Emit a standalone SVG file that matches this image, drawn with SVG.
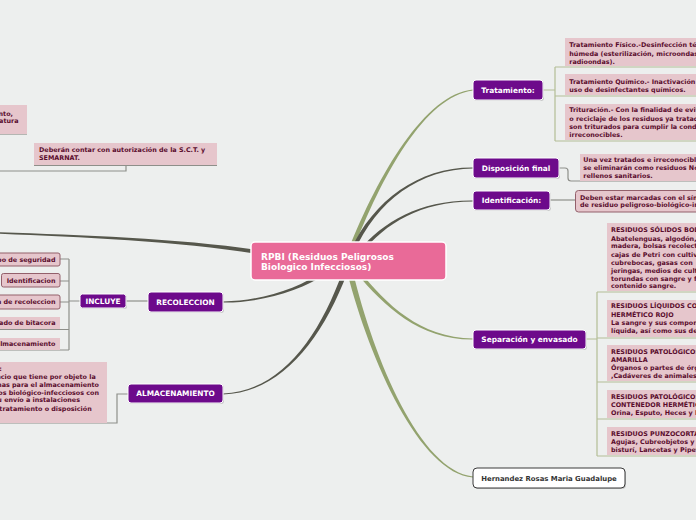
<svg xmlns="http://www.w3.org/2000/svg" width="696" height="520" viewBox="0 0 696 520">
<style>
.bg{fill:#edefee}
.tg{fill:#93a36e}
.td{fill:#56574c}
.lg{fill:none;stroke:#b3bd96;stroke-width:1.2}
.ly{fill:none;stroke:#8e8f8a;stroke-width:1.2}
.pn{fill:#6d0a8b;stroke:#ffffff;stroke-width:1}
.sh{fill:#9a9a9a;opacity:0.45}
.pt{font-family:"DejaVu Sans",Verdana,sans-serif;font-weight:bold;font-size:7.4px;fill:#ffffff;text-anchor:middle}
.bx{fill:#e6c6cc}
.bb{fill:#e6c6cc;stroke:#93606b;stroke-width:1}
.st{font-family:"DejaVu Sans",Verdana,sans-serif;font-weight:bold;font-size:6.4px;fill:#5a0c2c}
.ct{font-family:"DejaVu Sans",Verdana,sans-serif;font-weight:bold;font-size:9px;fill:#ffffff}
.ht{font-family:"DejaVu Sans",Verdana,sans-serif;font-weight:bold;font-size:6.9px;fill:#333333;text-anchor:middle}
.end{text-anchor:end}
</style>
<rect class="bg" x="0" y="0" width="696" height="520"/>

<g id="connectors">
  <path class="tg" d="M352.05,252.8 C381.7,175.65 425.1,96 473.05,90.5 L472.95,89.5 C424.9,94 378.3,174.35 347.95,251.2 Z"/>
  <path class="td" d="M353.83,252.81 C376.46,200.65 420,169 473,168.5 L473,167.5 C420,167 373.54,199.35 350.17,251.19 Z"/>
  <path class="td" d="M361.38,253.15 C386.08,222.9 420,202 473,201.5 L473,200.5 C420,200 383.92,221.1 358.62,250.85 Z"/>
  <path class="tg" d="M359.4,270.86 C386.09,304.11 420,338 473,338.5 L473,339.5 C420,340 383.91,305.89 356.6,273.14 Z"/>
  <path class="tg" d="M352.72,271.32 C374.13,359.47 420.11,470.8 473.05,476.5 L472.95,477.5 C419.89,473.2 369.87,360.53 347.28,272.68 Z"/>
  <path class="td" d="M326.17,273.62 C300.93,291.3 260,303 223,302.5 L223,301.5 C260,301 299.07,288.7 323.83,270.38 Z"/>
  <path class="td" d="M347.25,272.83 C321.78,340.66 280.04,393.1 223,394.5 L223,393.5 C279.96,390.9 318.22,339.34 342.75,271.17 Z"/>
  <path class="td" d="M257.7,253.98 C179.76,241.58 80,237.1 0,233.8 L0,232.2 C80,234.9 180.24,238.42 258.3,250.02 Z"/>
  <path class="lg" d="M543,90 H555 M555,67 V141 M555,67 H696 M555,96 H696 M555,141 H696"/>
  <path class="ly" d="M559,168 H565 Q568,168 568,171 V178 Q568,181 571,181 H696"/>
  <path class="ly" d="M550,200 H575"/>
  <path class="lg" d="M586,339 H597 M597,292 V456 M597,292 H696 M597,338 H696 M597,382 H696 M597,419 H696 M597,456 H696"/>
  <path class="ly" d="M126,301 H148"/>
  <path class="ly" d="M80,301 H69 M69,259 V350 M60,259 H69 M60,281 H69 M60,302 H69 M0,329.5 H69 M0,350 H69"/>
  <path class="ly" d="M128,394 H117 V423 H0"/>
  <path class="ly" d="M0,171 H126 V165 M34,165.5 H217"/>
  <path class="ly" d="M0,134 H27"/>
</g>

<g id="n-top-left">
  <rect class="bx" x="-20" y="105" width="47" height="29"/>
  <text class="st end" x="13" y="115.5">tratamiento,</text>
  <text class="st end" x="18.5" y="123">temperatura</text>
</g>
<g id="n-deberan">
  <rect class="bx" x="34" y="143" width="183" height="22"/>
  <text class="st" x="39" y="152.3">Deberán contar con autorización de la S.C.T. y</text>
  <text class="st" x="39" y="160">SEMARNAT.</text>
</g>

<g id="n-center">
  <rect x="251" y="242" width="195" height="38" rx="4" fill="#e96a98" stroke="#ffffff" stroke-width="1.5"/>
  <text class="ct" x="261" y="259.5">RPBI (Residuos Peligrosos</text>
  <text class="ct" x="261" y="270">Biologico Infecciosos)</text>
</g>

<g id="n-tratamiento">
  <rect class="sh" x="474" y="81" width="70" height="20" rx="3"/>
  <rect class="pn" x="473" y="80" width="70" height="20" rx="3"/>
  <text class="pt" x="508" y="92.6">Tratamiento:</text>
</g>
<g id="n-trat-fisico">
  <rect class="bx" x="565" y="38" width="140" height="28"/>
  <text class="st" x="569.3" y="47.4">Tratamiento Físico.-Desinfección térmica</text>
  <text class="st" x="569.3" y="55.7">húmeda (esterilización, microondas,</text>
  <text class="st" x="569.3" y="64">radioondas).</text>
</g>
<g id="n-trat-quimico">
  <rect class="bx" x="565" y="74" width="140" height="21"/>
  <text class="st" x="569.3" y="84">Tratamiento Químico.- Inactivación por</text>
  <text class="st" x="569.3" y="91.7">uso de desinfectantes químicos.</text>
</g>
<g id="n-trituracion">
  <rect class="bx" x="565" y="104" width="140" height="36"/>
  <text class="st" x="569.3" y="112.3">Trituración.- Con la finalidad de evitar</text>
  <text class="st" x="569.3" y="120.6">o reciclaje de los residuos ya tratados</text>
  <text class="st" x="569.3" y="129">son triturados para cumplir la condición</text>
  <text class="st" x="569.3" y="136.6">irreconocibles.</text>
</g>

<g id="n-disposicion">
  <rect class="sh" x="474" y="159" width="86" height="20" rx="3"/>
  <rect class="pn" x="473" y="158" width="86" height="20" rx="3"/>
  <text class="pt" x="516" y="170.6">Disposición final</text>
</g>
<g id="n-disp-child">
  <rect class="bx" x="580" y="154" width="130" height="27"/>
  <text class="st" x="583.3" y="162.3">Una vez tratados e irreconocibles</text>
  <text class="st" x="583.3" y="170">se eliminarán como residuos No</text>
  <text class="st" x="583.3" y="178">rellenos sanitarios.</text>
</g>

<g id="n-identificacion">
  <rect class="sh" x="474" y="192" width="77" height="19" rx="3"/>
  <rect class="pn" x="473" y="191" width="77" height="19" rx="3"/>
  <text class="pt" x="511.5" y="203">Identificación:</text>
</g>
<g id="n-ident-child">
  <rect class="bb" x="575.5" y="190.5" width="140" height="21.5" rx="3"/>
  <text class="st" x="580" y="200">Deben estar marcadas con el símbolo</text>
  <text class="st" x="580" y="207.3">de residuo peligroso-biológico-infeccioso</text>
</g>

<g id="n-separacion">
  <rect class="sh" x="474" y="331" width="113" height="19" rx="3"/>
  <rect class="pn" x="473" y="330" width="113" height="19" rx="3"/>
  <text class="pt" x="529.5" y="342">Separación y envasado</text>
</g>
<g id="n-solidos">
  <rect class="bx" x="607" y="223" width="100" height="68"/>
  <text class="st" x="611" y="232.3">RESIDUOS SÓLIDOS BOLSA</text>
  <text class="st" x="611" y="240.6">Abatelenguas, algodón,</text>
  <text class="st" x="611" y="248.3">madera, bolsas recolectoras</text>
  <text class="st" x="611" y="256.6">cajas de Petri con cultivos</text>
  <text class="st" x="611" y="264.6">cubrebocas,   gasas con</text>
  <text class="st" x="611" y="272.6">jeringas,  medios de cultivo</text>
  <text class="st" x="611" y="280.6">torundas con sangre y fluidos</text>
  <text class="st" x="611" y="288.3">contenido sangre.</text>
</g>
<g id="n-liquidos">
  <rect class="bx" x="607" y="300" width="100" height="37"/>
  <text class="st" x="611" y="308.3">RESIDUOS LÍQUIDOS CONTENEDOR</text>
  <text class="st" x="611" y="316.6">HERMÉTICO ROJO</text>
  <text class="st" x="611" y="325">La sangre y sus componentes</text>
  <text class="st" x="611" y="333">líquida, así como sus derivados</text>
</g>
<g id="n-patologicos1">
  <rect class="bx" x="607" y="345" width="100" height="36"/>
  <text class="st" x="611" y="354">RESIDUOS PATOLÓGICOS BOLSA</text>
  <text class="st" x="611" y="361.6">AMARILLA</text>
  <text class="st" x="611" y="370">Órganos o partes de órganos</text>
  <text class="st" x="611" y="378">,Cadáveres de animales</text>
</g>
<g id="n-patologicos2">
  <rect class="bx" x="607" y="390" width="100" height="28"/>
  <text class="st" x="611" y="399">RESIDUOS PATOLÓGICOS</text>
  <text class="st" x="611" y="407.3">CONTENEDOR HERMÉTICO</text>
  <text class="st" x="611" y="415">Orina, Esputo, Heces y l</text>
</g>
<g id="n-punzocortantes">
  <rect class="bx" x="607" y="427" width="100" height="28"/>
  <text class="st" x="611" y="435.6">RESIDUOS PUNZOCORTANTES</text>
  <text class="st" x="611" y="444">Agujas, Cubreobjetos y</text>
  <text class="st" x="611" y="452.3">bisturí, Lancetas y Pipetas</text>
</g>

<g id="n-hernandez">
  <rect class="sh" x="474" y="469" width="152" height="20" rx="4"/>
  <rect x="473" y="468" width="152" height="20" rx="4" fill="#ffffff" stroke="#3a3a3a" stroke-width="1"/>
  <text class="ht" x="549" y="480.6">Hernandez Rosas Maria Guadalupe</text>
</g>

<g id="n-recoleccion">
  <rect class="sh" x="149" y="293" width="75" height="20" rx="3"/>
  <rect class="pn" x="148" y="292" width="75" height="20" rx="3"/>
  <text class="pt" x="185.5" y="304.6">RECOLECCION</text>
</g>
<g id="n-incluye">
  <rect class="sh" x="81" y="295" width="46" height="14" rx="2.5"/>
  <rect class="pn" x="80" y="294" width="46" height="14" rx="2.5"/>
  <text class="pt" x="103" y="303.6">INCLUYE</text>
</g>
<g id="n-equipo">
  <rect class="bb" x="-10" y="253" width="70" height="13" rx="2"/>
  <text class="st end" x="55.5" y="261.7">Equipo de seguridad</text>
</g>
<g id="n-identificacion2">
  <rect class="bb" x="1.5" y="273.5" width="58.5" height="13.5" rx="2"/>
  <text class="st end" x="55.5" y="283">Identificacion</text>
</g>
<g id="n-ruta">
  <rect class="bb" x="-10" y="295" width="70" height="14" rx="2"/>
  <text class="st end" x="55.5" y="304.3">Ruta de recoleccion</text>
</g>
<g id="n-bitacora">
  <rect class="bx" x="-10" y="317" width="70" height="12"/>
  <text class="st end" x="55.5" y="325.2">Llenado de bitacora</text>
</g>
<g id="n-almac">
  <rect class="bx" x="-10" y="338" width="70" height="12"/>
  <text class="st end" x="55.5" y="345.8">Area de almacenamiento</text>
</g>

<g id="n-almacenamiento">
  <rect class="sh" x="129" y="385" width="95" height="19" rx="3"/>
  <rect class="pn" x="128" y="384" width="95" height="19" rx="3"/>
  <text class="pt" x="175.5" y="396.3">ALMACENAMIENTO</text>
</g>
<g id="n-almac-child">
  <rect class="bx" x="-10" y="362" width="117" height="61"/>
  <text class="st end" x="1.8" y="370.6">temporal:</text>
  <text class="st end" x="95.7" y="379">Es el espacio que tiene por objeto la</text>
  <text class="st end" x="99" y="386.6">condiciones óptimas para el almacenamiento</text>
  <text class="st end" x="99" y="394.6">de los residuos biológico-infecciosos con</text>
  <text class="st end" x="80" y="402.3">fines de su envío a instalaciones</text>
  <text class="st end" x="91.7" y="410.6">para su tratamiento o disposición</text>
</g>
</svg>
